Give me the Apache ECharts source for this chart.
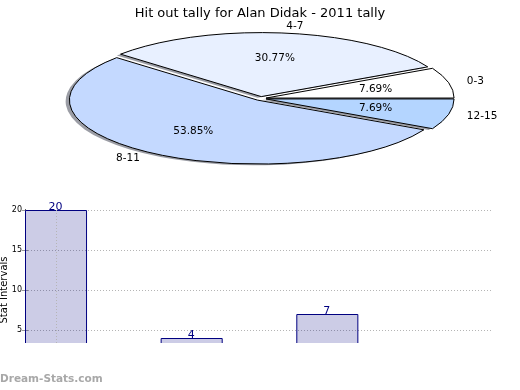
<!DOCTYPE html>
<html>
<head>
<meta charset="utf-8">
<script src="https://cdn.jsdelivr.net/npm/echarts@6/dist/echarts.min.js"></script>
<style>
html,body{margin:0;padding:0;background:#fff;}
#chart{width:520px;height:390px;}
</style>
</head>
<body>
<div id="chart"></div>
<script>
// ---- data ----
const titleText = 'Hit out tally for Alan Didak - 2011 tally';
const pieLabels = ['0-3', '4-7', '8-11', '12-15'];
const pieValues = [1, 4, 7, 1];
const barPositions = [0, 1, 2, 3];
const barValues = [20, 4, 7, 1];
const yTicks = [0, 5, 10, 15, 20];
const yAxisName = 'Stat Intervals';
const watermark = 'Dream-Stats.com';

// ---- style ----
const pieColors = ['#ffffff', '#e8f0ff', '#c4d9ff', '#b4d5ff'];
const FONT = 'DejaVu Sans';
const PCX = 260.6, PCY = 98.5, RX = 188, RY = 64, EXPLODE = 0.03;
const BAR_W = 0.45;

const total = pieValues.reduce((a, b) => a + b, 0);
function sliceAngles(i) {
  let s = 0;
  for (let k = 0; k < i; k++) s += pieValues[k];
  const a1 = s / total * 2 * Math.PI;
  const a2 = (s + pieValues[i]) / total * 2 * Math.PI;
  return [a1, a2];
}

function wedgePath(cx, cy, a1, a2) {
  const x1 = cx + RX * Math.cos(a1), y1 = cy - RY * Math.sin(a1);
  const x2 = cx + RX * Math.cos(a2), y2 = cy - RY * Math.sin(a2);
  const large = (a2 - a1) > Math.PI ? 1 : 0;
  return 'M' + cx + ' ' + cy + ' L' + x1 + ' ' + y1 +
    ' A' + RX + ' ' + RY + ' 0 ' + large + ' 0 ' + x2 + ' ' + y2 + ' Z';
}

function pieItem(params, api, shadow) {
  const i = params.dataIndex;
  const [a1, a2] = sliceAngles(i);
  const mid = (a1 + a2) / 2;
  const ox = EXPLODE * RX * Math.cos(mid);
  const oy = -EXPLODE * RY * Math.sin(mid);
  const sx = shadow ? -0.02 * RX : 0;
  const sy = shadow ? 0.02 * RY : 0;
  const cx = PCX + ox + sx, cy = PCY + oy + sy;
  const children = [{
    type: 'path',
    shape: { pathData: wedgePath(cx, cy, a1, a2) },
    style: shadow ? { fill: 'rgba(55,60,75,0.5)' } :
      { fill: pieColors[i], stroke: '#000', lineWidth: 1 }
  }];
  if (!shadow) {
    const c = Math.cos(mid), s = Math.sin(mid);
    children.push({
      type: 'text',
      x: PCX + ox + 1.1 * RX * c, y: PCY + oy - 1.1 * RY * s,
      style: { text: pieLabels[i], fontFamily: FONT, fontSize: 10.5, fill: '#000',
        align: c > 0 ? 'left' : 'right', verticalAlign: 'middle' }
    });
    children.push({
      type: 'text',
      x: PCX + ox + 0.6 * RX * c, y: PCY + oy - 0.6 * RY * s,
      style: { text: (pieValues[i] / total * 100).toFixed(2) + '%', fontFamily: FONT, fontSize: 10.5, fill: '#000',
        align: 'center', verticalAlign: 'middle' }
    });
  }
  return { type: 'group', children: children };
}

const chart = echarts.init(document.getElementById('chart'), null, { renderer: 'canvas' });
chart.setOption({
  animation: false,
  backgroundColor: '#fff',
  title: {
    text: titleText, left: 'center', top: 2,
    textStyle: { fontFamily: FONT, fontSize: 13, fontWeight: 'normal', color: '#000' }
  },
  grid: { left: 25, right: 27, top: 210, bottom: 20, containLabel: false, outerBoundsMode: 'none' },
  xAxis: [{
    type: 'value', min: 0, max: 3.45, position: 'bottom',
    axisLine: { show: true, lineStyle: { color: '#000' } },
    axisTick: { show: false }, axisLabel: { show: false }, splitLine: { show: false }
  }, {
    type: 'value', min: 0, max: 3.45, position: 'top',
    axisLine: { show: true, lineStyle: { color: '#000' } },
    axisTick: { show: false }, axisLabel: { show: false }, splitLine: { show: false }
  }],
  yAxis: [{
    type: 'value', min: yTicks[0], max: yTicks[yTicks.length - 1], interval: 5,
    axisLine: { show: true, lineStyle: { color: '#000' } },
    axisTick: { show: true, inside: true, length: 3, lineStyle: { color: '#999' } },
    axisLabel: { fontFamily: FONT, fontSize: 8, color: '#000', margin: 3 },
    splitLine: { show: true, lineStyle: { color: '#b5b5b5', type: [1, 2], width: 1 } }
  }, {
    type: 'value', min: yTicks[0], max: yTicks[yTicks.length - 1], interval: 5, position: 'right',
    axisLine: { show: true, lineStyle: { color: '#000' } },
    axisTick: { show: true, inside: true, length: 3, lineStyle: { color: '#999' } },
    axisLabel: { show: false }, splitLine: { show: false }
  }],
  series: [{
    type: 'custom', coordinateSystem: 'none', z: 1,
    data: pieValues,
    renderItem: (p, api) => pieItem(p, api, true)
  }, {
    type: 'custom', coordinateSystem: 'none', z: 2,
    data: pieValues,
    renderItem: (p, api) => pieItem(p, api, false)
  }, {
    type: 'custom', coordinateSystem: 'cartesian2d', xAxisIndex: 0, yAxisIndex: 0, z: 3,
    data: barPositions.map((x, i) => [x, barValues[i]]),
    renderItem: function (params, api) {
      const x = api.value(0), v = api.value(1);
      const p0 = api.coord([x, 0]);
      const p1 = api.coord([x + BAR_W, v]);
      const pc = api.coord([x + BAR_W / 2, v]);
      return {
        type: 'group', children: [{
          type: 'rect',
          shape: { x: p0[0] + 0.5, y: p1[1] + 0.5, width: p1[0] - p0[0], height: p0[1] - p1[1] },
          style: { fill: 'rgba(0,0,128,0.2)', stroke: '#000080', lineWidth: 1 }
        }, {
          type: 'text', x: pc[0], y: pc[1] - 3,
          style: { text: String(v), fontFamily: FONT, fontSize: 11, fill: '#000080', align: 'center', verticalAlign: 'middle' }
        }]
      };
    },
    markLine: {
      silent: true, symbol: 'none', label: { show: false },
      lineStyle: { color: '#b5b5b5', type: [1, 2], width: 1 },
      data: [{ xAxis: barPositions[0] + BAR_W / 2 }]
    }
  }],
  graphic: [{
    type: 'text', z: 50, x: 4, y: 290, rotation: Math.PI / 2,
    style: { text: yAxisName, fontFamily: FONT, fontSize: 10, fill: '#000', align: 'center', verticalAlign: 'middle' }
  }, {
    type: 'rect', left: 0, top: 343, z: 100,
    shape: { width: 520, height: 47 }, style: { fill: '#fff' }
  }, {
    type: 'text', left: 0, top: 374, z: 101,
    style: { text: watermark, fontFamily: FONT, fontSize: 10.5, fontWeight: 'bold', fill: '#a8a8a8' }
  }]
});
</script>
</body>
</html>
